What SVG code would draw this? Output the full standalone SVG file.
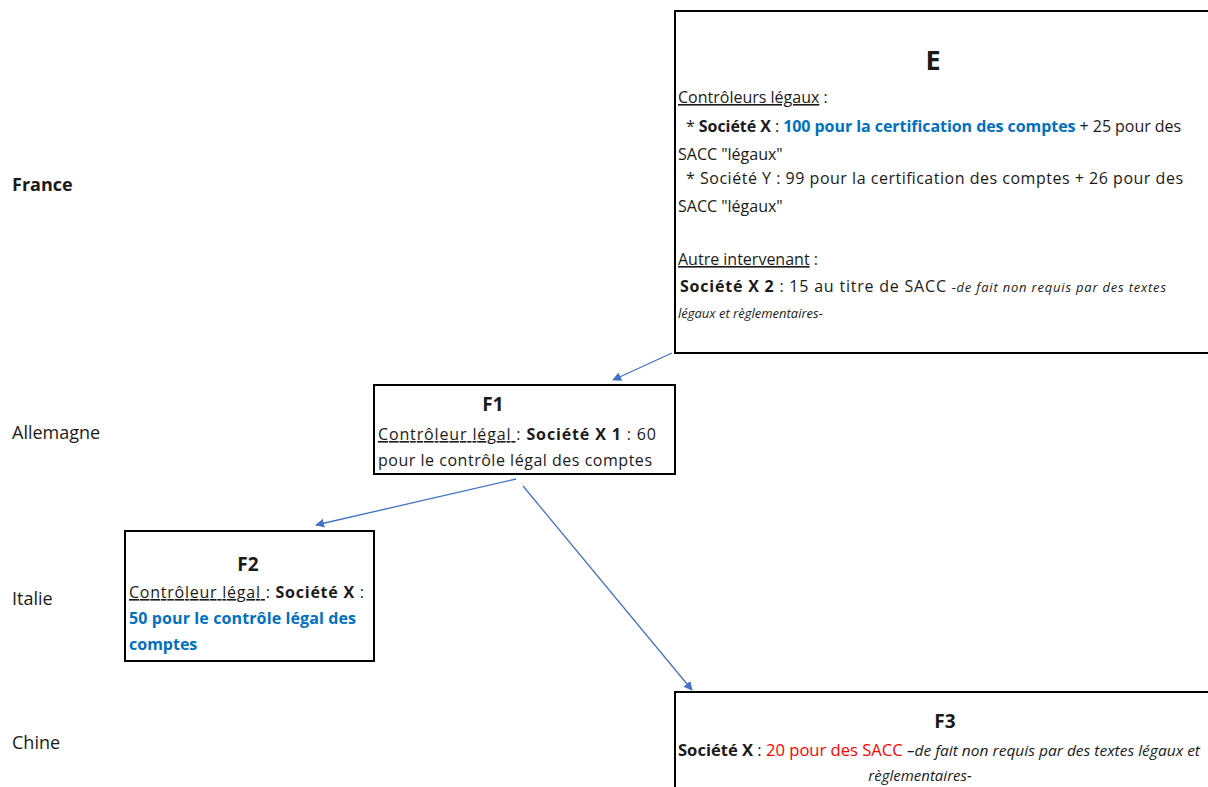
<svg xmlns="http://www.w3.org/2000/svg" width="1208" height="787" viewBox="0 0 1208 787">
<defs>
<style>
text{font-family:"Open Sans","Liberation Sans",sans-serif;font-size:16px;fill:#1a1a1a}
.lab{font-size:18px}
.b{font-weight:bold}
.t{font-weight:bold;font-size:27px}
.h{font-weight:bold;font-size:19px}
.u{text-decoration:underline}
.blue{fill:#0070C0;font-weight:bold}
.red{fill:#FF0000}
.i{font-style:italic;font-size:13px}
.i2{font-style:italic;font-size:15px}
.box{fill:#fff;stroke:#000;stroke-width:2}
.conn{stroke:#4472C4;stroke-width:1.3;fill:none;marker-end:url(#ah)}
</style>
<marker id="ah" viewBox="0 0 10 10" refX="9" refY="5" markerWidth="9" markerHeight="9" markerUnits="userSpaceOnUse" orient="auto">
<path d="M0,0 L10,5 L0,10 z" fill="#4472C4"/>
</marker>
</defs>
<rect width="1208" height="787" fill="#fff"/>
<g id="labels">
<text x="12" y="191" class="lab b">France</text>
<text x="12" y="439" class="lab">Allemagne</text>
<text x="12" y="605" class="lab">Italie</text>
<text x="12" y="749" class="lab">Chine</text>
</g>
<g id="connectors">
<line class="conn" x1="672" y1="353" x2="613" y2="380"/>
<line class="conn" x1="516" y1="479" x2="316" y2="525"/>
<line class="conn" x1="523" y1="486" x2="692" y2="690"/>
</g>
<g id="E">
<rect class="box" x="675" y="11" width="540" height="342"/>
<text x="933" y="70" class="t" text-anchor="middle">E</text>
<text x="678" y="103"><tspan class="u">Contrôleurs légaux</tspan> :</text>
<text x="686" y="132" textLength="495" lengthAdjust="spacing">* <tspan class="b">Société X</tspan> :  <tspan class="blue">100 pour la certification des comptes</tspan> + 25 pour des</text>
<text x="678" y="160">SACC "légaux"</text>
<text x="686" y="184" textLength="497" lengthAdjust="spacing">* Société Y : 99 pour la certification des comptes + 26 pour des</text>
<text x="678" y="212">SACC "légaux"</text>
<text x="678" y="265"><tspan class="u">Autre intervenant</tspan> :</text>
<text x="680" y="292" textLength="486" lengthAdjust="spacing"><tspan class="b">Société X 2</tspan> : 15 au titre de SACC <tspan class="i">-de fait non requis par des textes</tspan></text>
<text x="678" y="318" class="i">légaux et règlementaires-</text>
</g>
<g id="F1">
<rect class="box" x="374" y="385" width="301" height="89"/>
<text x="493" y="411" class="h" text-anchor="middle">F1</text>
<text x="378" y="440" textLength="278" lengthAdjust="spacing"><tspan class="u">Contrôleur légal </tspan>:  <tspan class="b">Société X 1</tspan> :  60</text>
<text x="378" y="466" textLength="274" lengthAdjust="spacing">pour le contrôle légal des comptes</text>
</g>
<g id="F2">
<rect class="box" x="125" y="531" width="249" height="130"/>
<text x="248" y="571" class="h" text-anchor="middle">F2</text>
<text x="129" y="598" textLength="235" lengthAdjust="spacing"><tspan class="u">Contrôleur légal </tspan>:  <tspan class="b">Société X</tspan> :</text>
<text x="129" y="624" class="blue" textLength="227" lengthAdjust="spacing">50 pour le contrôle légal des</text>
<text x="129" y="650" class="blue">comptes</text>
</g>
<g id="F3">
<rect class="box" x="675" y="692" width="540" height="110"/>
<text x="945" y="728" class="h" text-anchor="middle">F3</text>
<text x="678" y="756" textLength="522" lengthAdjust="spacingAndGlyphs"><tspan class="b">Société X</tspan> :  <tspan class="red">20 pour des SACC</tspan> <tspan class="i2">–de fait non requis par des textes légaux et</tspan></text>
<text x="920" y="781" class="i2" text-anchor="middle">règlementaires-</text>
</g>
</svg>
